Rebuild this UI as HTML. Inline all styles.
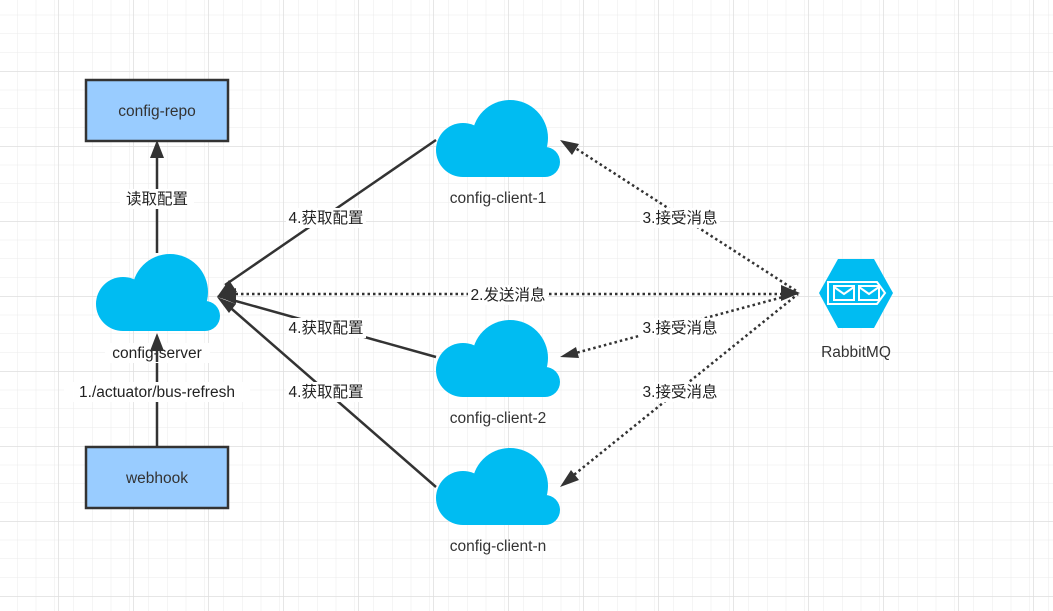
<!DOCTYPE html>
<html><head><meta charset="utf-8"><style>
body{margin:0;background:#fff}
svg{display:block;font-family:"Liberation Sans","Noto Sans CJK SC",sans-serif}
</style></head><body>
<svg width="1053" height="611" viewBox="0 0 1053 611" xmlns="http://www.w3.org/2000/svg">
<defs>
<pattern id="minor" x="-1.75" y="-4" width="18.75" height="18.75" patternUnits="userSpaceOnUse">
<path d="M0 0H18.75M0 0V18.75" stroke="#ebebeb" stroke-width="1" fill="none"/>
</pattern>
<pattern id="major" x="-17" y="-4" width="75" height="75" patternUnits="userSpaceOnUse">
<path d="M0 0H75M0 0V75" stroke="#dedede" stroke-width="1.5" fill="none"/>
</pattern>
<g id="cloud" fill="#00bcf2">
<circle cx="27" cy="50" r="27"/>
<circle cx="74" cy="38" r="38"/>
<circle cx="109" cy="62" r="15"/>
<rect x="27" y="45" width="82" height="32"/>
<rect x="10" y="50" width="20" height="20"/>
</g>
</defs>
<rect width="1053" height="611" fill="#fff"/>
<rect width="1053" height="611" fill="url(#minor)"/>
<rect width="1053" height="611" fill="url(#major)"/>

<g stroke="#333" stroke-width="2.5" fill="none">
<line x1="157" y1="253" x2="157" y2="150"/>
<line x1="436" y1="140" x2="225" y2="285"/>
<line x1="436" y1="357" x2="225" y2="298"/>
<line x1="436" y1="487" x2="225" y2="303"/>
<line x1="157" y1="446" x2="157" y2="345"/>
</g>
<g stroke="#333" stroke-width="2.5" stroke-dasharray="2.5 3" fill="none">
<line x1="230" y1="294" x2="790" y2="294"/>
<line x1="572" y1="146" x2="798" y2="292"/>
<line x1="572" y1="354" x2="798" y2="293"/>
<line x1="570" y1="478" x2="798" y2="294"/>
</g>

<rect x="86" y="80" width="142" height="61" fill="#99ccff" stroke="#333" stroke-width="2.5"/>
<rect x="86" y="447" width="142" height="61" fill="#99ccff" stroke="#333" stroke-width="2.5"/>

<use href="#cloud" x="96" y="254"/>
<use href="#cloud" x="436" y="100"/>
<use href="#cloud" x="436" y="320"/>
<use href="#cloud" x="436" y="448"/>

<path d="M838 259 H874 L893 293 L874 328 H838 L819 293Z" fill="#00bcf2"/>
<path d="M828 282 H877 L885 293 L877 304 H828Z" fill="none" stroke="#fff" stroke-width="2"/>
<rect x="834" y="286" width="20" height="14" fill="none" stroke="#fff" stroke-width="2"/>
<path d="M834 287 L844 294 L854 287" fill="none" stroke="#fff" stroke-width="2"/>
<rect x="859" y="286" width="20" height="14" fill="none" stroke="#fff" stroke-width="2"/>
<path d="M859 287 L869 294 L879 287" fill="none" stroke="#fff" stroke-width="2"/>

<g font-size="15.5" fill="#333" text-anchor="middle">
<text x="157" y="116">config-repo</text>
<text x="157" y="483">webhook</text>
<text x="498" y="203">config-client-1</text>
<text x="498" y="423">config-client-2</text>
<text x="498" y="551">config-client-n</text>
<text x="856" y="357">RabbitMQ</text>
</g>
<g font-size="15.5" fill="#222" text-anchor="middle">
<rect x="120" y="189" width="74" height="20" fill="#fff"/>
<text x="157" y="204">读取配置</text>
<rect x="105" y="343" width="105" height="20" fill="#fff"/>
<text x="157" y="358">config-server</text>
<rect x="64" y="382" width="186" height="20" fill="#fff"/>
<text x="157" y="397">1./actuator/bus-refresh</text>
<rect x="286" y="208" width="80" height="20" fill="#fff"/>
<text x="326" y="223">4.获取配置</text>
<rect x="286" y="318" width="80" height="20" fill="#fff"/>
<text x="326" y="333">4.获取配置</text>
<rect x="286" y="382" width="80" height="20" fill="#fff"/>
<text x="326" y="397">4.获取配置</text>
<rect x="640" y="208" width="80" height="20" fill="#fff"/>
<text x="680" y="223">3.接受消息</text>
<rect x="640" y="318" width="80" height="20" fill="#fff"/>
<text x="680" y="333">3.接受消息</text>
<rect x="640" y="382" width="80" height="20" fill="#fff"/>
<text x="680" y="397">3.接受消息</text>
<rect x="468" y="285" width="80" height="20" fill="#fff"/>
<text x="508" y="300">2.发送消息</text>
</g>
<line x1="157" y1="345" x2="157" y2="362" stroke="#333" stroke-width="2.5"/>
<g fill="#333">
<path d="M157 140 L150 158 L164 158Z"/>
<path d="M157 333 L150 351 L164 351Z"/>
<path d="M217 297 L229 280 L237 292Z"/>
<path d="M217 297 L236 289 L234 302Z"/>
<path d="M217 297 L236 304 L229 313Z"/>
<path d="M217 296 L236 288 L236 304Z"/>
<path d="M800 293 L781 285 L781 301Z"/>
<path d="M560 140 L579 144 L572 155Z"/>
<path d="M560 357 L576 347 L579 358Z"/>
<path d="M560 487 L571 470 L579 480Z"/>
</g>
</svg>
</body></html>
